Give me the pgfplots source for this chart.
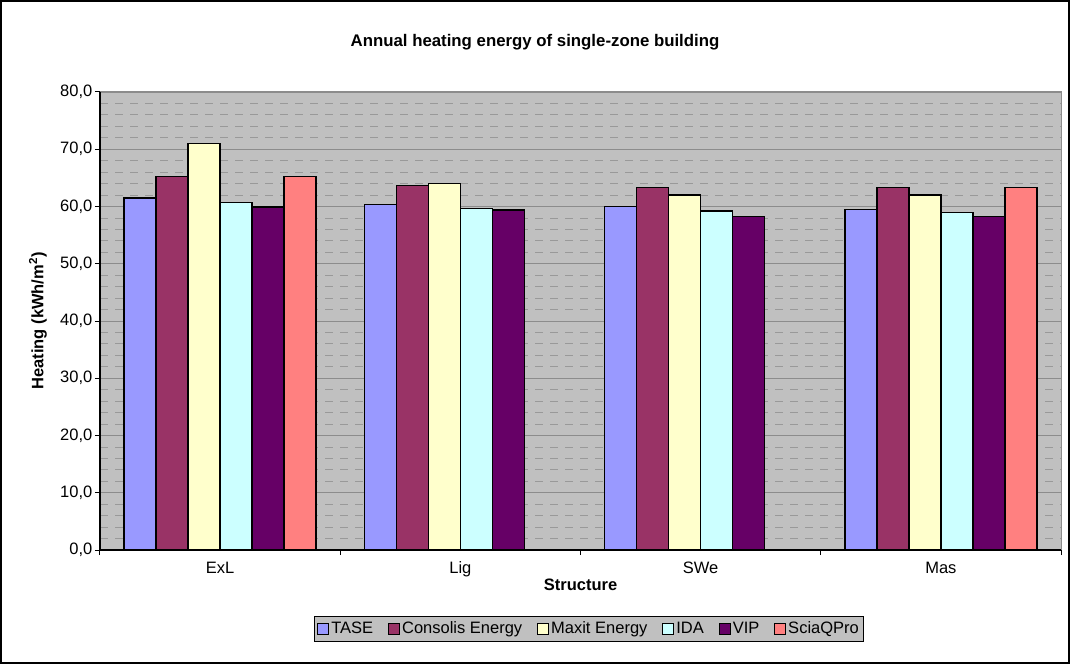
\documentclass[border=0pt]{standalone}
\usepackage{pgfplots}
\pgfplotsset{compat=1.18}
\usepackage{fontspec}
\setmainfont{Liberation Sans}
\definecolor{cTASE}{HTML}{9999FF}
\definecolor{cCons}{HTML}{993366}
\definecolor{cMax}{HTML}{FFFFCC}
\definecolor{cIDA}{HTML}{CCFFFF}
\definecolor{cVIP}{HTML}{660066}
\definecolor{cScia}{HTML}{FF8080}
\definecolor{plotgray}{HTML}{C0C0C0}
\definecolor{gridgray}{HTML}{8C8C8C}
\definecolor{dashgray}{HTML}{999999}
\newcommand{\fs}{\fontsize{16.5}{19}\selectfont}
\begin{document}
\fs
\begin{tikzpicture}[x=1pt,y=1pt]
\useasboundingbox (0,0) rectangle (1070,664);
\fill[white] (0,0) rectangle (1070,664);
\draw[line width=2pt] (1,1) rectangle (1069,663);
\node[font=\bfseries\fontsize{16.8}{19}\selectfont] at (535,622) {Annual heating energy of single-zone building};
\begin{axis}[
  at={(100pt,114pt)}, anchor=south west, scale only axis,
  width=961pt, height=458pt,
  ybar=0pt, bar width=32pt,
  xmin=-0.5, xmax=3.5, ymin=0, ymax=80,
  xtick={-0.5,0.5,1.5,2.5,3.5}, xticklabels={},
  extra x ticks={0,1,2,3}, extra x tick labels={ExL,Lig,SWe,Mas},
  extra x tick style={major tick length=0pt, grid=none, tick label style={yshift=-6pt}},
  ytick={0,10,...,80}, minor y tick num=4,
  ymajorgrids, yminorgrids,
  major grid style={draw=gridgray, line width=0.9pt},
  minor grid style={draw=dashgray, line width=0.9pt, dash pattern=on 8pt off 7pt},
  minor y tick style={draw=none},
  axis x line*=bottom, axis y line*=left,
  axis line style={line width=1.3pt, black, -},
  axis background/.style={fill=plotgray, draw=gridgray, line width=1pt},
  tick align=outside, major tick length=5pt, minor tick length=0pt,
  tick style={black, line width=1pt},
  ticklabel style={font=\fs},
  yticklabel style={xshift=3pt, /pgf/number format/.cd, fixed, fixed zerofill, precision=1, use comma, assume math mode=true},
  xlabel={\bfseries Structure},
  ylabel={\bfseries Heating (kWh/m\textsuperscript{2})},
  xlabel style={at={(axis description cs:0.5,-0.0764)}, anchor=center, font=\fs},
  ylabel style={at={(axis description cs:-0.0645,0.5)}, anchor=center, rotate=0, font=\fs},
  every axis plot/.append style={draw=black, line width=1.3pt},
  area legend,
  legend columns=6,
  legend style={at={(axis description cs:0.509,-0.1725)}, anchor=center,
    fill=plotgray, draw=black, line width=0.8pt, font=\fs,
    inner sep=3pt,
    /tikz/every even column/.append style={column sep=13pt}},
  legend image code/.code={\draw[#1, line width=0.9pt] (0pt,-5.5pt) rectangle (11pt,5.5pt);},
]
\addplot[fill=cTASE] coordinates {(0,61.5) (1,60.4) (2,60.0) (3,59.5)};
\addplot[fill=cCons] coordinates {(0,65.2) (1,63.7) (2,63.3) (3,63.3)};
\addplot[fill=cMax] coordinates {(0,71.0) (1,64.0) (2,62.0) (3,62.0)};
\addplot[fill=cIDA] coordinates {(0,60.7) (1,59.7) (2,59.2) (3,58.9)};
\addplot[fill=cVIP] coordinates {(0,59.9) (1,59.4) (2,58.3) (3,58.3)};
\addplot[fill=cScia] coordinates {(0,65.2) (3,63.3)};
\legend{TASE,Consolis Energy,Maxit Energy,IDA,VIP,SciaQPro}
\end{axis}
\end{tikzpicture}
\end{document}
